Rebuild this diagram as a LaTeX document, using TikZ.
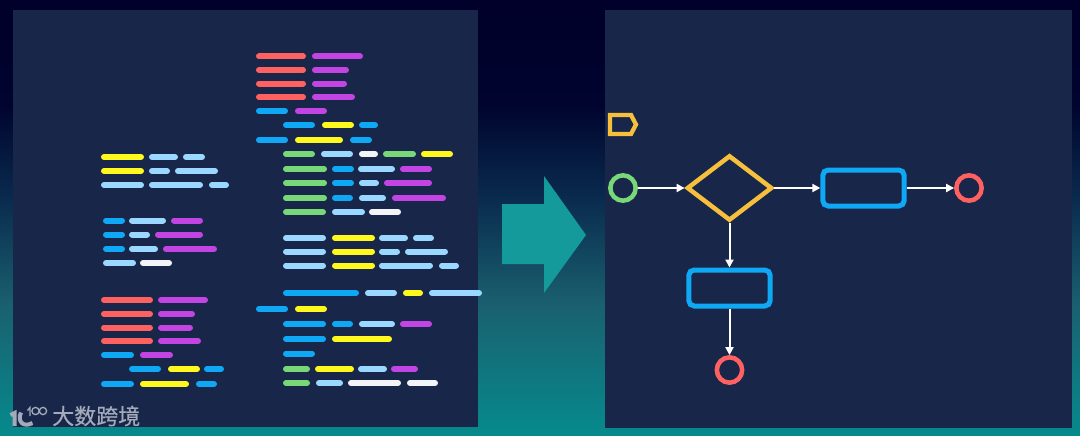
\documentclass[tikz,border=0pt]{standalone}
\usepackage{xcolor}
\usepackage{fontspec}
\newfontfamily\cjkfont[FakeBold=0.5]{Noto Sans CJK SC}
\usetikzlibrary{positioning,arrows.meta,shapes.geometric,calc}
\definecolor{PanelBg}{HTML}{18264A}
\definecolor{ArrowTeal}{HTML}{149A9A}
\definecolor{BarRed}{HTML}{FF6161}
\definecolor{BarPurple}{HTML}{C244E2}
\definecolor{BarBlue}{HTML}{0FA8F5}
\definecolor{BarSky}{HTML}{9BD8FF}
\definecolor{BarYellow}{HTML}{FFF81E}
\definecolor{BarGreen}{HTML}{78D878}
\definecolor{BarWhite}{HTML}{F2F4F8}
\definecolor{FlowGold}{HTML}{F6BF3C}
\definecolor{LogoGrey}{HTML}{A3ABBB}
\definecolor{BackTop}{HTML}{00002A}
\definecolor{BackUpper}{HTML}{00042E}
\definecolor{BackMid}{HTML}{0A2C4E}
\definecolor{BackLow}{HTML}{1A6070}
\definecolor{BackEnd}{HTML}{068A8C}
\pgfdeclareverticalshading{BackShade}{100bp}{
  color(0bp)=(BackEnd);
  color(25bp)=(BackEnd);
  color(40bp)=(BackLow);
  color(52bp)=(BackMid);
  color(63bp)=(BackUpper);
  color(75bp)=(BackTop);
  color(100bp)=(BackTop)}
\tikzset{
  codebar/.style={line width=4.5pt,line cap=round},
  flowline/.style={draw=white,line width=1.5pt,-{Triangle[length=6pt,width=6pt]}},
  startevent/.style={circle,draw=BarGreen,line width=3.4pt,minimum size=19pt,inner sep=0pt},
  endevent/.style={circle,draw=BarRed,line width=3.4pt,minimum size=19pt,inner sep=0pt},
  gatewaybox/.style={diamond,draw=FlowGold,line width=3.4pt,minimum width=64pt,minimum height=49pt,inner sep=0pt},
  taskbox/.style={rectangle,rounded corners=4pt,draw=BarBlue,line width=3.75pt,minimum width=61pt,minimum height=27pt,inner sep=0pt},
}
\begin{document}
\begin{tikzpicture}[x=0.75pt,y=-0.75pt]
  \useasboundingbox (0,0) rectangle (1080,435);
  \shade[shading=BackShade] (0,0) rectangle (1080,435);
  \fill[PanelBg] (13,10) rectangle (478,427);
  \fill[PanelBg] (605,10) rectangle (1072,428);

  % code lines, left panel
  \foreach \ypos/\xa/\xb/\barcol in {
    157/104/141/BarYellow, 157/152/175/BarSky, 157/186/202/BarSky,
    171/104/141/BarYellow, 171/152/167/BarSky, 171/178/215/BarSky,
    185/104/141/BarSky, 185/152/200/BarSky, 185/212/226/BarSky,
    220.5/106/122/BarBlue, 220.5/132/163/BarSky, 220.5/174/200/BarPurple,
    234.5/106/122/BarBlue, 234.5/132/147/BarSky, 234.5/158/200/BarPurple,
    249/106/122/BarBlue, 249/132/155/BarSky, 249/166/214/BarPurple,
    263/106/133/BarSky, 263/143/169/BarWhite,
    300/104/150/BarRed, 300/161/205/BarPurple,
    314/104/150/BarRed, 314/161/192/BarPurple,
    327.5/104/150/BarRed, 327.5/161/190/BarPurple,
    341/104/150/BarRed, 341/161/198/BarPurple,
    355/104/131/BarBlue, 355/143/170/BarPurple,
    369/132/158/BarBlue, 369/171/197/BarYellow, 369/207/221/BarBlue,
    384/104/131/BarBlue, 384/143/186/BarYellow, 384/199/214/BarBlue}
    \draw[codebar,\barcol] (\xa,\ypos) -- (\xb,\ypos);

  % code lines, right column
  \foreach \ypos/\xa/\xb/\barcol in {
    56.5/259/303/BarRed, 56.5/315/360/BarPurple,
    70/259/303/BarRed, 70/315/346/BarPurple,
    83.5/259/303/BarRed, 83.5/315/344/BarPurple,
    97/259/303/BarRed, 97/315/352/BarPurple,
    111/259/285/BarBlue, 111/298/324/BarPurple,
    125/286/312/BarBlue, 125/325/351/BarYellow, 125/362/375/BarBlue,
    140/259/285/BarBlue, 140/298/340/BarYellow, 140/353/369/BarBlue,
    154/286/312/BarGreen, 154/324/350/BarSky, 154/362/375/BarWhite, 154/386/413/BarGreen, 154/424/450/BarYellow,
    169/286/324/BarGreen, 169/335/351/BarBlue, 169/361/392/BarSky, 169/403/429/BarPurple,
    183/286/324/BarGreen, 183/335/351/BarBlue, 183/362/376/BarSky, 183/387/429/BarPurple,
    198/286/324/BarGreen, 198/335/350/BarBlue, 198/362/383/BarSky, 198/395/443/BarPurple,
    212/286/323/BarGreen, 212/335/362/BarSky, 212/372/398/BarWhite,
    238/286/323/BarSky, 238/335/372/BarYellow, 238/382/405/BarSky, 238/416/431/BarSky,
    251.5/286/323/BarSky, 251.5/335/372/BarYellow, 251.5/382/397/BarSky, 251.5/408/445/BarSky,
    265.5/286/323/BarSky, 265.5/335/372/BarYellow, 265.5/382/430/BarSky, 265.5/442/456/BarSky,
    293/286/356/BarBlue, 293/368/394/BarSky, 293/406/420/BarYellow, 293/432/479/BarSky,
    309/259/285/BarBlue, 309/298/324/BarYellow,
    324/286/323/BarBlue, 324/335/350/BarBlue, 324/362/392/BarSky, 324/403/429/BarPurple,
    339/286/323/BarBlue, 339/335/389/BarYellow,
    353.5/286/312/BarBlue,
    369/286/307/BarGreen, 369/318/351/BarYellow, 369/361/384/BarSky, 369/394/415/BarPurple,
    383/286/307/BarGreen, 383/319/340/BarSky, 383/351/398/BarWhite, 383/410/435/BarWhite}
    \draw[codebar,\barcol] (\xa,\ypos) -- (\xb,\ypos);

  % big arrow
  \fill[ArrowTeal] (502,204) -- (544,204) -- (544,176) -- (586,235)
    -- (544,293) -- (544,264) -- (502,264) -- cycle;

  % process
  \draw[FlowGold,line width=3.2pt] (610,115) -- (631,115) -- (636,124.5) -- (631,134) -- (610,134) -- cycle;
  \node[startevent] (startnode) at (623,188) {};
  \node[gatewaybox] (gatenode) at (729.5,188) {};
  \node[taskbox] (tasknode) at (863.5,188) {};
  \node[endevent] (endnode) at (969,188) {};
  \node[taskbox] (checknode) at (729.5,288) {};
  \node[endevent] (stopnode) at (729.5,370) {};
  \draw[flowline] (startnode) -- (gatenode);
  \draw[flowline] (gatenode) -- (tasknode);
  \draw[flowline] (tasknode) -- (endnode);
  \draw[flowline] (gatenode) -- (checknode);
  \draw[flowline] (checknode) -- (stopnode);

  % watermark
  \node[text=LogoGrey,font=\cjkfont\fontsize{16.5pt}{16.5pt}\selectfont,anchor=west,inner sep=0pt] (logotext) at (52,416) {大数跨境};
  \draw[LogoGrey,line width=3pt] (10.5,415) -- (14.5,413) -- (14.5,426);
  \draw[LogoGrey,line width=3pt] (21,412.5) .. controls (17,421) and (23,428) .. (32.5,423);
  \draw[LogoGrey,line width=1pt] (27.5,410.5) -- (30,407.5) -- (30,416);
  \draw[LogoGrey,line width=1pt] (35.5,411) circle (3.6) (43,411) circle (3.6);
\end{tikzpicture}
\end{document}
